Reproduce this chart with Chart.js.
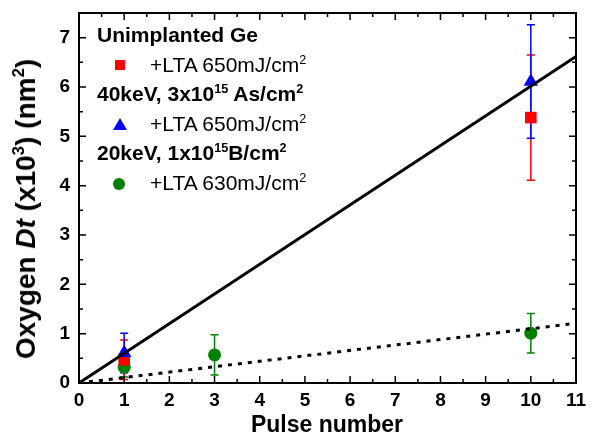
<!DOCTYPE html>
<html>
<head>
<meta charset="utf-8">
<script src="https://cdn.jsdelivr.net/npm/chart.js@4"></script>
<style>
  body { margin: 0; background: #fff; }
  #wrap { position: relative; width: 595px; height: 433px; font-family: "Liberation Sans", Arial, sans-serif; color: #000; }
  canvas { position: absolute; left: 0; top: 0; }
  .lbl { position: absolute; white-space: nowrap; font-size: 21px; line-height: 21px; }
  .b { font-weight: bold; }
  sup { font-size: 0.6em; vertical-align: 0; position: relative; top: -0.65em; }
  .mk { position: absolute; }
  #ytitle { position: absolute; left: 26px; top: 209px; transform: translate(-50%, -50%) rotate(-90deg); font-weight: bold; font-size: 28px; white-space: nowrap; }
  #xtitle { position: absolute; left: 327px; top: 424px; transform: translate(-50%, -50%); font-weight: bold; font-size: 23px; white-space: nowrap; }
</style>
</head>
<body>
<div id="wrap">
  <canvas id="chart" width="595" height="433"></canvas>

  <div class="lbl b" style="left:97px; top:24px;">Unimplanted Ge</div>
  <div class="mk" style="left:115px; top:60px; width:10px; height:10px; background:#ff0000;"></div>
  <div class="lbl" style="left:150px; top:54px;">+LTA 650mJ/cm<sup>2</sup></div>

  <div class="lbl b" style="left:97px; top:83px;">40keV, 3x10<sup>15</sup> As/cm<sup>2</sup></div>
  <div class="mk" style="left:113px; top:118px; width:0; height:0; border-left:7px solid transparent; border-right:7px solid transparent; border-bottom:12px solid #0000ff;"></div>
  <div class="lbl" style="left:150px; top:113px;">+LTA 650mJ/cm<sup>2</sup></div>

  <div class="lbl b" style="left:97px; top:142px;">20keV, 1x10<sup>15</sup>B/cm<sup>2</sup></div>
  <div class="mk" style="left:113px; top:178px; width:12px; height:12px; border-radius:50%; background:#008000;"></div>
  <div class="lbl" style="left:150px; top:172px;">+LTA 630mJ/cm<sup>2</sup></div>

  <div id="ytitle">Oxygen <i>Dt</i> (x10<sup>3</sup>) (nm<sup>2</sup>)</div>
  <div id="xtitle">Pulse number</div>
</div>

<script>
// Data
const X_TICKS = [0, 1, 2, 3, 4, 5, 6, 7, 8, 9, 10, 11];
const Y_TICKS = [0, 1, 2, 3, 4, 5, 6, 7];

const RED_X = [1, 10];
const RED_Y = [0.47, 5.38];
const RED_ERR = [0.40, 1.27];

const BLUE_X = [1, 10];
const BLUE_Y = [0.61, 6.11];
const BLUE_ERR = [0.40, 1.15];

const GREEN_X = [1, 3, 10];
const GREEN_Y = [0.32, 0.57, 1.01];
const GREEN_ERR = [0.20, 0.41, 0.40];

const FIT_X = [0, 11];
const FIT_SOLID = [0, 6.62];
const FIT_DOTTED = [0, 1.21];

const pts = (xs, ys) => xs.map((x, i) => ({ x, y: ys[i] }));

// Error bars drawn under the markers
const errorBars = {
  id: 'errorBars',
  beforeDatasetsDraw(chart) {
    const { ctx, scales: { x, y } } = chart;
    const sets = [
      [GREEN_X, GREEN_Y, GREEN_ERR, '#008000'],
      [RED_X, RED_Y, RED_ERR, '#ff0000'],
      [BLUE_X, BLUE_Y, BLUE_ERR, '#0000ff']
    ];
    ctx.save();
    ctx.lineWidth = 1.5;
    sets.forEach(([xs, ys, es, col]) => {
      ctx.strokeStyle = col;
      xs.forEach((xv, i) => {
        const px = x.getPixelForValue(xv);
        const top = y.getPixelForValue(ys[i] + es[i]);
        const bot = y.getPixelForValue(ys[i] - es[i]);
        ctx.beginPath();
        ctx.moveTo(px, top); ctx.lineTo(px, bot);
        ctx.moveTo(px - 4, top); ctx.lineTo(px + 4, top);
        ctx.moveTo(px - 4, bot); ctx.lineTo(px + 4, bot);
        ctx.stroke();
      });
    });
    ctx.restore();
  }
};

// Box frame with inward major/minor ticks on all four sides
const frameTicks = {
  id: 'frameTicks',
  afterDraw(chart) {
    const { ctx, chartArea: a, scales: { x, y } } = chart;
    ctx.save();
    ctx.strokeStyle = '#000';
    ctx.lineWidth = 1.5;
    ctx.beginPath();
    for (let v = x.min; v <= x.max + 1e-9; v += 0.5) {
      const px = x.getPixelForValue(v);
      const len = v % 1 === 0 ? 7 : 4;
      ctx.moveTo(px, a.bottom); ctx.lineTo(px, a.bottom - len);
      ctx.moveTo(px, a.top); ctx.lineTo(px, a.top + len);
    }
    for (let v = y.min; v <= y.max + 1e-9; v += 0.5) {
      const py = y.getPixelForValue(v);
      const len = v % 1 === 0 ? 7 : 4;
      ctx.moveTo(a.left, py); ctx.lineTo(a.left + len, py);
      ctx.moveTo(a.right, py); ctx.lineTo(a.right - len, py);
    }
    ctx.stroke();
    ctx.lineWidth = 2;
    ctx.strokeRect(a.left, a.top, a.right - a.left, a.bottom - a.top);
    ctx.restore();
  }
};

const tickFont = { family: '"Liberation Sans", Arial, sans-serif', size: 19, weight: 'bold' };

new Chart(document.getElementById('chart'), {
  type: 'scatter',
  data: {
    datasets: [
      { type: 'line', data: pts(FIT_X, FIT_SOLID), borderColor: '#000', borderWidth: 3, pointRadius: 0, fill: false, order: 0 },
      { type: 'line', data: pts(FIT_X, FIT_DOTTED), borderColor: '#000', borderWidth: 3, borderDash: [4, 6], pointRadius: 0, fill: false, order: 0 },
      { label: 'blue', data: pts(BLUE_X, BLUE_Y), pointStyle: 'triangle', pointRadius: 8.3, backgroundColor: '#0000ff', borderColor: '#0000ff', borderWidth: 0, order: 1 },
      { label: 'red', data: pts(RED_X, RED_Y), pointStyle: 'rect', pointRadius: 8.2, backgroundColor: '#ff0000', borderColor: '#ff0000', borderWidth: 0, order: 2 },
      { label: 'green', data: pts(GREEN_X, GREEN_Y), pointStyle: 'circle', pointRadius: 6.5, backgroundColor: '#008000', borderColor: '#008000', borderWidth: 0, order: 3 }
    ]
  },
  options: {
    responsive: false,
    animation: false,
    devicePixelRatio: 1,
    layout: { padding: { left: 0, right: 19, top: 13, bottom: 0 } },
    plugins: { legend: { display: false }, tooltip: { enabled: false } },
    scales: {
      x: {
        type: 'linear', min: 0, max: 11,
        grid: { display: false, drawTicks: false }, border: { display: false },
        afterBuildTicks: (s) => { s.ticks = X_TICKS.map(v => ({ value: v })); },
        afterFit: (s) => { s.height = 50; s.paddingLeft = 0; s.paddingRight = 0; },
        ticks: { font: tickFont, color: '#000', padding: 6, maxRotation: 0, autoSkip: false }
      },
      y: {
        type: 'linear', min: 0, max: 7.5,
        grid: { display: false, drawTicks: false }, border: { display: false },
        afterBuildTicks: (s) => { s.ticks = Y_TICKS.map(v => ({ value: v })); },
        afterFit: (s) => { s.width = 79; s.paddingTop = 0; s.paddingBottom = 0; },
        ticks: { font: tickFont, color: '#000', padding: 9 }
      }
    }
  },
  plugins: [errorBars, frameTicks]
});
</script>
</body>
</html>
